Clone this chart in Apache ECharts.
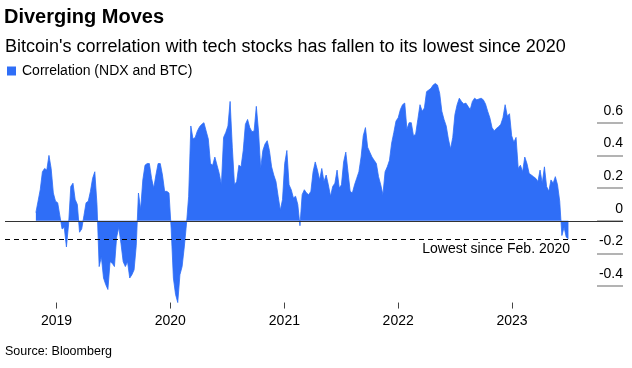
<!DOCTYPE html>
<html><head><meta charset="utf-8">
<script src="https://cdn.jsdelivr.net/npm/echarts@6/dist/echarts.min.js"></script>
<style>html,body{margin:0;padding:0;background:#fff}#c{width:632px;height:368px}</style>
</head><body><div id="c"></div>
<script>
const titleText = 'Diverging Moves';
const subtitleText = "Bitcoin's correlation with tech stocks has fallen to its lowest since 2020";
const seriesName = 'Correlation (NDX and BTC)';
const sourceText = 'Source: Bloomberg';
const lowestLabel = 'Lowest since Feb. 2020';

// weekly samples starting 2018-10-27
const startDate = [2018, 9, 27];
const stepDays = 7;
const values = [
  0.05, 0.12, 0.19, 0.30, 0.32, 0.31, 0.40, 0.32, 0.17, 0.12,
  0.11, 0.03, -0.05, -0.04, -0.16, -0.02, 0.21, 0.23, 0.13, 0.10,
  -0.07, -0.05, 0.03, 0.11, 0.12, 0.18, 0.26, 0.30, 0.10, -0.28,
  -0.22, -0.35, -0.39, -0.42, -0.25, -0.26, -0.28, -0.10, -0.04, -0.14,
  -0.25, -0.28, -0.25, -0.35, -0.33, -0.30, -0.15, 0.17, 0.07, 0.25,
  0.34, 0.35, 0.35, 0.26, 0.20, 0.28, 0.35, 0.35, 0.28, 0.18,
  0.18, 0.17, -0.05, -0.35, -0.45, -0.50, -0.33, -0.28, -0.16, -0.02,
  0.15, 0.58, 0.50, 0.51, 0.55, 0.575, 0.59, 0.60, 0.55, 0.50,
  0.35, 0.34, 0.39, 0.34, 0.29, 0.22, 0.51, 0.54, 0.58, 0.73,
  0.45, 0.22, 0.24, 0.34, 0.33, 0.43, 0.59, 0.62, 0.57, 0.545,
  0.55, 0.70, 0.55, 0.32, 0.43, 0.47, 0.49, 0.43, 0.33, 0.28,
  0.24, 0.15, 0.065, 0.13, 0.35, 0.43, 0.22, 0.19, 0.14, 0.15,
  0.10, -0.03, 0.16, 0.19, 0.17, 0.16, 0.18, 0.30, 0.36, 0.31,
  0.25, 0.32, 0.24, 0.28, 0.22, 0.15, 0.21, 0.23, 0.31, 0.20,
  0.22, 0.36, 0.42, 0.30, 0.18, 0.17, 0.22, 0.26, 0.30, 0.39,
  0.52, 0.57, 0.45, 0.42, 0.39, 0.37, 0.35, 0.27, 0.22, 0.16,
  0.30, 0.33, 0.37, 0.475, 0.54, 0.61, 0.63, 0.68, 0.71, 0.72,
  0.56, 0.60, 0.60, 0.52, 0.53, 0.62, 0.71, 0.67, 0.69, 0.79,
  0.80, 0.81, 0.83, 0.84, 0.83, 0.78, 0.67, 0.62, 0.58, 0.50,
  0.44, 0.51, 0.65, 0.71, 0.75, 0.73, 0.715, 0.72, 0.70, 0.68,
  0.73, 0.75, 0.74, 0.745, 0.75, 0.74, 0.715, 0.67, 0.63, 0.57,
  0.55, 0.565, 0.575, 0.59, 0.63, 0.71, 0.64, 0.655, 0.52, 0.48,
  0.51, 0.32, 0.34, 0.30, 0.39, 0.35, 0.29, 0.28, 0.27, 0.26,
  0.24, 0.31, 0.23, 0.33, 0.21, 0.18, 0.25, 0.23, 0.27, 0.22,
  0.12, -0.09, -0.04, -0.10, -0.11
];
const yearTicks = [2019, 2020, 2021, 2022, 2023];
const yTicks = [-0.4, -0.2, 0, 0.2, 0.4, 0.6];
const lowestLevel = -0.113;
const xRange = [[2018, 6, 20], [2023, 11, 23]];
const lowestLineEnd = [2023, 8, 2];

const ts = (a) => new Date(a[0], a[1], a[2]).getTime();
const data = values.map((v, i) => [new Date(startDate[0], startDate[1], startDate[2] + i * stepDays).getTime(), v]);
const yearTs = yearTicks.map(y => new Date(y, 0, 1).getTime());

const FONT = "'Liberation Sans', Arial, sans-serif";
const BLUE = '#2f6ef7';

const chart = echarts.init(document.getElementById('c'), null, {renderer: 'canvas'});
chart.setOption({
  animation: false,
  backgroundColor: '#fff',
  textStyle: {fontFamily: FONT},
  title: [
    {text: titleText, left: 4, top: 6, padding: 0,
     textStyle: {fontFamily: FONT, fontSize: 20, fontWeight: 'bold', color: '#000', lineHeight: 22}},
    {text: subtitleText, left: 5, top: 37, padding: 0,
     textStyle: {fontFamily: FONT, fontSize: 18, fontWeight: 'normal', color: '#000', lineHeight: 20}},
    {text: sourceText, left: 5, top: 345, padding: 0,
     textStyle: {fontFamily: FONT, fontSize: 12.5, fontWeight: 'normal', color: '#000', lineHeight: 14}}
  ],
  legend: {
    left: 7, top: 64, padding: 0, itemWidth: 9, itemHeight: 9, itemGap: 10,
    icon: 'rect',
    textStyle: {fontFamily: FONT, fontSize: 14, color: '#000', padding: [0, 0, 0, 1]},
    data: [{name: seriesName, itemStyle: {color: BLUE}}]
  },
  grid: {left: 5, right: 9, top: 73.65, bottom: 65.45, containLabel: false, outerBoundsMode: 'none'},
  xAxis: {
    type: 'value',
    position: 'bottom',
    min: ts(xRange[0]), max: ts(xRange[1]),
    axisLine: {show: false, onZero: false},
    splitLine: {show: false},
    axisTick: {show: true, length: 6, customValues: yearTs, lineStyle: {color: '#444', width: 1}},
    axisLabel: {customValues: yearTs, margin: 12, fontFamily: FONT, fontSize: 14, color: '#000',
      formatter: v => String(new Date(v).getFullYear())}
  },
  yAxis: {
    type: 'value', position: 'right',
    min: -0.5, max: 0.9,
    axisLine: {show: false, onZero: false},
    splitLine: {show: false},
    axisTick: {show: true, inside: true, length: 26, customValues: yTicks, lineStyle: {color: '#9a9a9a', width: 1.5}},
    axisLabel: {inside: true, customValues: yTicks, margin: 0, align: 'right', verticalAlign: 'bottom',
      padding: [0, 0, 5, 0], fontFamily: FONT, fontSize: 14, color: '#000',
      formatter: v => (Math.abs(v) < 1e-9 ? '0' : String(Math.round(v * 10) / 10))}
  },
  series: [{
    name: seriesName,
    type: 'line',
    data: data,
    showSymbol: false,
    symbol: 'none',
    sampling: 'none',
    color: BLUE,
    lineStyle: {color: BLUE, width: 0.8},
    areaStyle: {color: BLUE, opacity: 1, origin: 0},
    markLine: {
      silent: true, symbol: 'none', animation: false,
      data: [
        {yAxis: 0, lineStyle: {color: '#333', width: 1.2, type: 'solid'}, label: {show: false}},
        [
          {coord: [ts(xRange[0]), lowestLevel], lineStyle: {color: '#000', width: 1.2, type: [5, 4]},
           label: {show: true, formatter: lowestLabel, position: 'insideEndBottom', distance: [18, 3],
             fontFamily: FONT, fontSize: 14, color: '#000'}},
          {coord: [ts(lowestLineEnd), lowestLevel]}
        ]
      ]
    }
  }]
});
</script>
</body></html>
